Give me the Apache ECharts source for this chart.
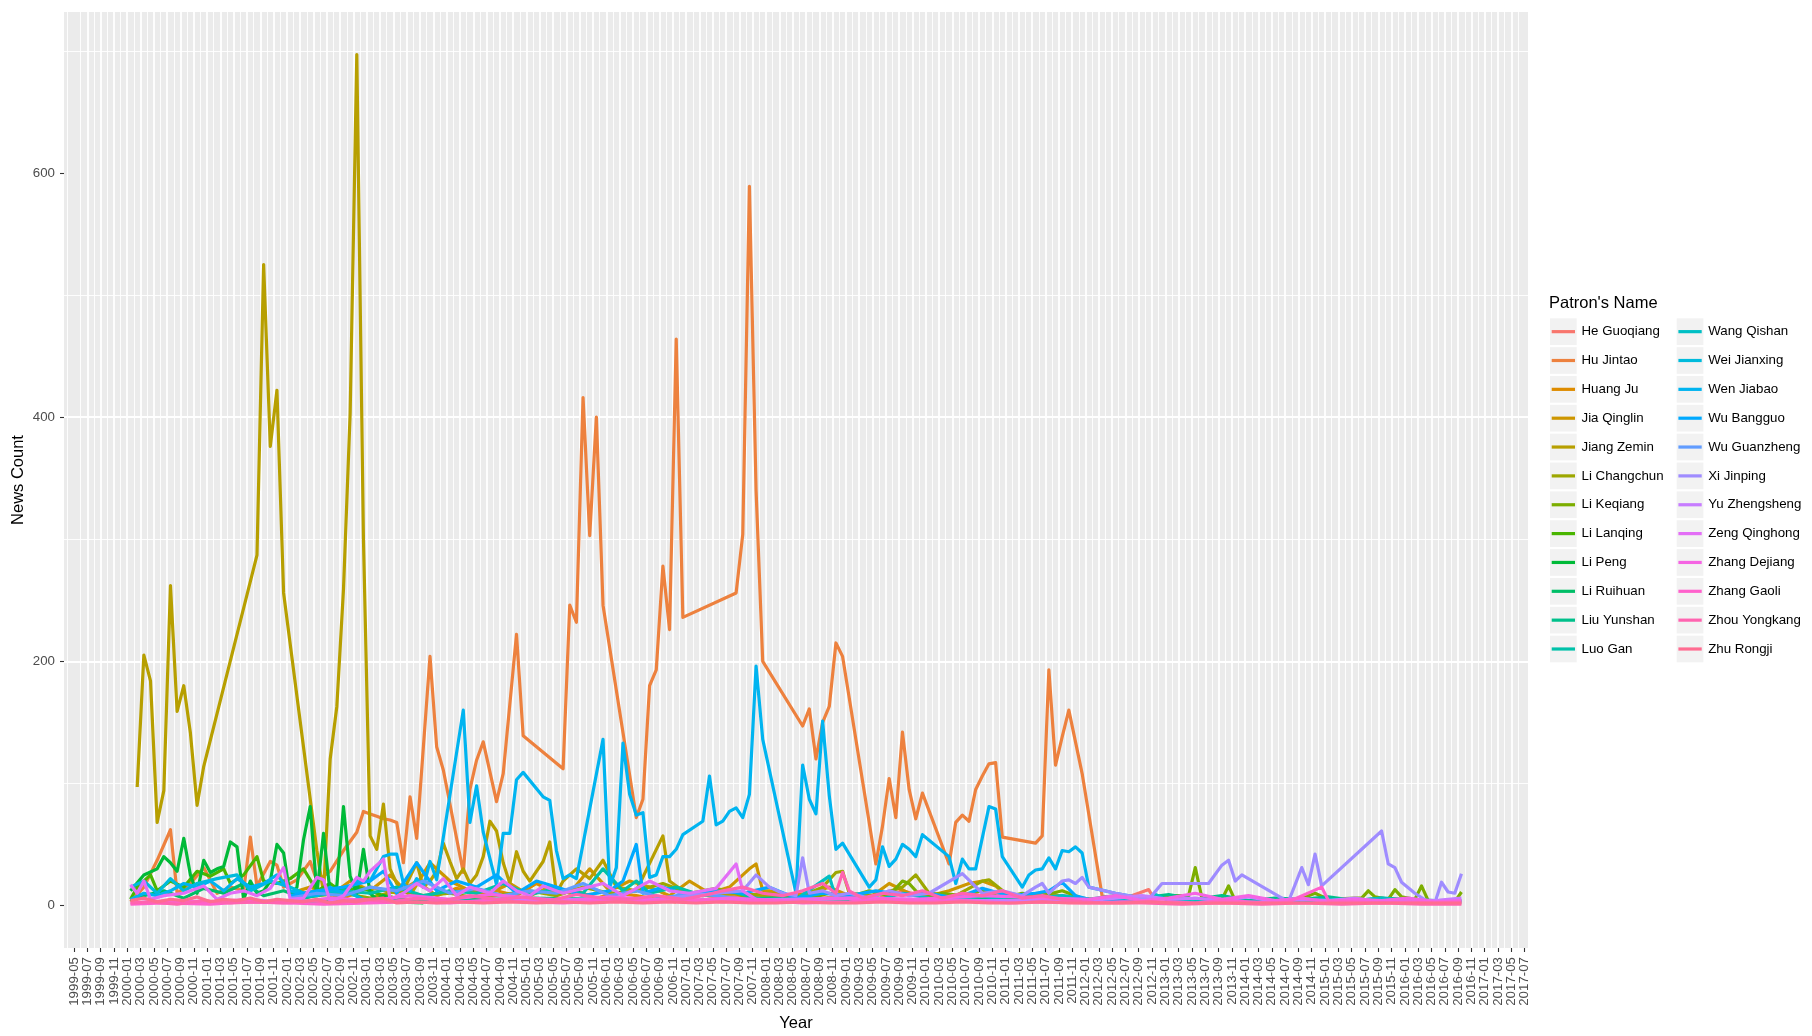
<!DOCTYPE html>
<html>
<head>
<meta charset="utf-8">
<title>News Count by Patron</title>
<script src="https://cdn.jsdelivr.net/npm/echarts@6/dist/echarts.min.js"></script>
<style>
  html, body { margin: 0; padding: 0; background: #ffffff; }
  #chart { width: 1812px; height: 1036px; }
</style>
</head>
<body>
<div id="chart"></div>
<script>
// ---- Series names (legend order) ----
const patronNames = [
  'He Guoqiang', 'Hu Jintao', 'Huang Ju', 'Jia Qinglin', 'Jiang Zemin', 'Li Changchun',
  'Li Keqiang', 'Li Lanqing', 'Li Peng', 'Li Ruihuan', 'Liu Yunshan', 'Luo Gan',
  'Wang Qishan', 'Wei Jianxing', 'Wen Jiabao', 'Wu Bangguo', 'Wu Guanzheng', 'Xi Jinping',
  'Yu Zhengsheng', 'Zeng Qinghong', 'Zhang Dejiang', 'Zhang Gaoli', 'Zhou Yongkang', 'Zhu Rongji'
];

// ---- Monthly news counts, [month, count] ----
const heGuoqiang = [['2007-01',3],['2007-05',6],['2007-09',8],['2008-01',5],['2008-05',10],['2008-09',6],['2009-01',8],['2009-05',5],['2009-09',12],['2010-01',6],['2010-05',8],['2010-09',5],['2011-01',10],['2011-05',6],['2011-09',8],['2012-01',5],['2012-05',3],['2012-10',13],['2012-11',4]];

const huJintao = [['2000-01',3],['2000-03',15],['2000-05',37],['2000-07',62],['2000-08',10],['2000-10',18],['2000-12',31],['2001-02',10],['2001-04',15],['2001-06',12],['2001-07',56],['2001-08',16],['2001-10',36],['2001-11',33],['2001-12',15],['2002-02',21],['2002-04',36],['2002-05',20],['2002-07',28],['2002-09',45],['2002-11',60],['2002-12',77],
  ['2003-01',75],['2003-02',73],['2003-03',71],['2003-04',70],['2003-05',68],['2003-06',35],['2003-07',89],['2003-08',55],['2003-10',204],['2003-11',130],['2003-12',111],['2004-03',27],['2004-04',95],['2004-05',119],['2004-06',134],['2004-08',85],['2004-09',108],['2004-11',222],['2004-12',139],
  ['2005-06',112],['2005-07',246],['2005-08',232],['2005-09',416],['2005-10',303],['2005-11',400],['2005-12',246],['2006-05',72],['2006-06',87],['2006-07',180],['2006-08',193],['2006-09',278],['2006-10',226],['2006-11',464],['2006-12',236],
  ['2007-08',256],['2007-09',304],['2007-10',589],['2007-11',340],['2007-12',200],['2008-06',147],['2008-07',161],['2008-08',120],['2008-09',150],['2008-10',163],['2008-11',215],['2008-12',204],
  ['2009-05',34],['2009-06',65],['2009-07',104],['2009-08',72],['2009-09',142],['2009-10',95],['2009-11',71],['2009-12',92],['2010-04',34],['2010-05',68],['2010-06',74],['2010-07',69],['2010-08',95],['2010-09',106],['2010-10',116],['2010-11',117],['2010-12',56],
  ['2011-05',51],['2011-06',57],['2011-07',193],['2011-08',115],['2011-09',138],['2011-10',160],['2011-12',108],['2012-03',8],['2012-06',3],['2013-03',2]];

const huangJu = [['2002-01',8],['2002-05',12],['2002-09',6],['2003-01',15],['2003-05',10],['2003-08',20],['2003-11',8],['2004-02',14],['2004-05',10],['2004-08',12],['2004-11',8],['2005-02',18],['2005-05',10],['2005-08',12],['2005-11',6],['2006-02',10],['2006-05',8],['2006-08',5],['2006-11',3]];

const jiaQinglin = [['2002-01',10],['2002-04',15],['2002-07',8],['2002-10',20],['2003-01',12],['2003-04',25],['2003-07',8],['2003-10',35],['2004-01',20],['2004-04',12],['2004-07',10],['2004-10',18],['2005-01',8],['2005-04',15],['2005-07',10],['2005-10',30],['2006-01',12],['2006-04',20],['2006-07',15],['2006-10',8],['2007-01',20],['2007-04',10],['2007-07',15],['2007-10',30],['2007-11',34],['2007-12',12],['2008-01',12],['2008-04',8],['2008-07',10],['2008-10',15],['2009-01',8],['2009-04',6],['2009-07',18],['2009-10',10],['2010-01',8],['2010-04',12],['2010-07',18],['2010-09',20],['2010-11',16],['2011-01',6],['2011-04',8],['2011-07',10],['2011-10',6],['2012-01',4]];

const jiangZemin = [['2000-02',97],['2000-03',205],['2000-04',184],['2000-05',68],['2000-06',94],['2000-07',262],['2000-08',159],['2000-09',180],['2000-10',141],['2000-11',82],['2000-12',114],
  ['2001-08',287],['2001-09',525],['2001-10',376],['2001-11',422],['2001-12',256],
  ['2002-05',45],['2002-06',10],['2002-07',120],['2002-08',163],['2002-09',259],['2002-10',403],['2002-11',697],['2002-12',300],
  ['2003-01',57],['2003-02',46],['2003-03',83],['2003-04',30],['2003-05',18],['2003-06',12],['2003-08',35],['2003-09',15],['2003-10',20],['2003-11',28],['2003-12',51],
  ['2004-01',36],['2004-02',22],['2004-03',30],['2004-04',18],['2004-05',25],['2004-06',40],['2004-07',69],['2004-08',61],['2004-09',35],['2004-10',18],['2004-11',44],['2004-12',28],
  ['2005-01',20],['2005-03',36],['2005-04',52],['2005-05',10],['2005-06',20],['2005-08',30],['2005-10',22],['2005-12',37],['2006-02',15],['2006-05',12],['2006-09',57],['2006-10',20],['2006-12',12],['2007-04',8],['2007-09',10],['2008-03',6]];

const liChangchun = [['2002-01',5],['2002-05',8],['2002-09',10],['2003-01',6],['2003-05',12],['2003-09',8],['2004-01',10],['2004-05',6],['2004-09',9],['2005-01',12],['2005-05',8],['2005-09',15],['2006-01',10],['2006-05',12],['2006-09',18],['2007-01',10],['2007-05',14],['2007-09',8],['2008-01',10],['2008-05',6],['2008-09',15],['2008-11',27],['2008-12',28],['2009-01',10],['2009-05',8],['2009-09',15],['2009-11',25],['2010-01',10],['2010-05',8],['2010-09',20],['2010-10',21],['2011-01',8],['2011-05',6],['2011-09',5],['2012-01',4]];

const liKeqiang = [['2008-01',5],['2008-04',8],['2008-07',6],['2008-10',10],['2009-01',7],['2009-04',12],['2009-07',8],['2009-09',20],['2009-10',18],['2009-12',6],['2010-03',10],['2010-06',8],['2010-09',12],['2010-12',6],['2011-03',10],['2011-06',8],['2011-09',12],['2011-12',6],['2012-03',4],['2012-07',6],['2012-10',5],
  ['2013-01',8],['2013-03',8],['2013-04',8],['2013-05',31],['2013-06',6],['2013-07',4],['2013-08',5],['2013-09',5],['2013-10',16],['2013-11',4],['2014-03',3],['2014-07',4],['2014-09',6],['2014-11',10],['2015-01',5],['2015-05',6],['2015-06',6],['2015-07',12],['2015-08',7],['2015-10',5],['2015-11',13],['2015-12',7],['2016-02',5],['2016-03',16],['2016-04',4],['2016-07',2],['2016-08',3],['2016-09',11]];

const liLanqing = [['2000-01',5],['2000-02',15],['2000-04',25],['2000-05',12],['2000-07',20],['2000-09',15],['2000-11',28],['2001-01',24],['2001-03',30],['2001-04',18],['2001-06',25],['2001-08',40],['2001-09',20],['2001-11',18],['2002-01',22],['2002-03',30],['2002-05',12],['2002-07',18],['2002-09',10],['2002-11',15],['2003-01',12],['2003-03',8],['2003-05',6],['2003-08',4]];

const liPeng = [['2000-01',12],['2000-03',25],['2000-05',30],['2000-06',40],['2000-07',35],['2000-08',28],['2000-09',55],['2000-10',25],['2000-11',10],['2000-12',37],['2001-01',27],['2001-02',30],['2001-03',32],['2001-04',52],['2001-05',48],['2001-06',5],['2001-07',20],['2001-08',10],['2001-09',12],['2001-10',20],['2001-11',50],['2001-12',43],
  ['2002-01',8],['2002-02',15],['2002-03',54],['2002-04',81],['2002-05',10],['2002-06',59],['2002-07',10],['2002-08',16],['2002-09',81],['2002-10',24],['2002-11',10],['2002-12',46],['2003-01',10],['2003-02',5],['2003-03',8],['2003-05',3],['2003-09',2]];

const liRuihuan = [['2000-01',4],['2000-03',8],['2000-06',12],['2000-09',6],['2000-12',14],['2001-03',10],['2001-06',18],['2001-09',8],['2001-12',12],['2002-03',6],['2002-06',10],['2002-09',14],['2002-12',5],['2003-03',3]];

const liuYunshan = [['2002-01',3],['2003-01',5],['2004-01',4],['2005-01',6],['2006-01',5],['2007-01',4],['2008-01',6],['2009-01',5],['2010-01',4],['2011-01',6],['2012-01',5],['2012-05',8],['2012-09',6],['2013-01',9],['2013-05',5],['2013-09',8],['2014-01',4],['2014-05',6],['2014-09',5],['2015-01',7],['2015-05',4],['2015-09',6],['2016-01',5],['2016-05',4],['2016-09',3]];

const luoGan = [['2002-01',5],['2002-05',8],['2002-09',12],['2003-01',10],['2003-05',15],['2003-09',8],['2004-01',12],['2004-05',10],['2004-09',18],['2005-01',9],['2005-05',14],['2005-09',10],['2005-12',30],['2006-03',12],['2006-05',20],['2006-07',10],['2006-11',15],['2007-03',8],['2007-07',12],['2007-11',6],['2008-01',4]];

const wangQishan = [['2008-01',3],['2008-05',5],['2008-10',24],['2008-11',6],['2009-01',6],['2009-05',4],['2009-09',10],['2010-01',6],['2010-05',5],['2010-09',8],['2011-01',4],['2011-05',6],['2011-09',8],['2012-01',5],['2012-05',4],['2012-10',6],['2012-11',9],['2013-01',4],['2013-05',3],['2013-09',5],['2014-01',3],['2014-05',4],['2014-09',3],['2015-01',5],['2015-05',4],['2015-09',6],['2016-01',4],['2016-05',3],['2016-09',4]];

const weiJianxing = [['2000-01',15],['2000-03',20],['2000-05',10],['2000-07',22],['2000-09',12],['2000-11',18],['2001-02',22],['2001-05',25],['2001-07',12],['2001-10',20],['2002-01',15],['2002-04',8],['2002-07',12],['2002-10',10],['2002-12',5]];

const wenJiabao = [['2000-01',5],['2000-03',10],['2000-05',8],['2000-07',12],['2000-09',18],['2000-11',15],['2001-01',20],['2001-03',12],['2001-05',22],['2001-07',15],['2001-09',18],['2001-11',25],['2002-01',12],['2002-03',10],['2002-05',8],['2002-07',15],['2002-09',10],['2002-11',20],
  ['2003-01',20],['2003-02',30],['2003-03',40],['2003-04',42],['2003-05',42],['2003-06',18],['2003-07',12],['2003-08',22],['2003-09',15],['2003-10',36],['2003-11',21],['2004-03',160],['2004-04',68],['2004-05',98],['2004-06',60],['2004-08',17],['2004-09',59],['2004-10',59],['2004-11',103],['2004-12',109],
  ['2005-03',89],['2005-04',86],['2005-05',45],['2005-06',22],['2005-07',25],['2005-08',22],['2005-12',136],['2006-01',15],['2006-02',31],['2006-03',133],['2006-04',91],['2006-05',74],['2006-06',76],['2006-07',23],['2006-08',25],['2006-09',40],['2006-10',40],['2006-11',46],['2006-12',58],
  ['2007-03',69],['2007-04',106],['2007-05',66],['2007-06',69],['2007-07',77],['2007-08',80],['2007-09',72],['2007-10',91],['2007-11',196],['2007-12',136],['2008-05',10],['2008-06',115],['2008-07',87],['2008-08',75],['2008-09',151],['2008-10',90],['2008-11',46],['2008-12',51],
  ['2009-04',15],['2009-05',21],['2009-06',48],['2009-07',32],['2009-08',38],['2009-09',50],['2009-10',46],['2009-11',40],['2009-12',58],['2010-04',40],['2010-05',18],['2010-06',38],['2010-07',30],['2010-08',30],['2010-10',81],['2010-11',79],['2010-12',40],
  ['2011-03',15],['2011-04',25],['2011-05',29],['2011-06',30],['2011-07',39],['2011-08',30],['2011-09',45],['2011-10',44],['2011-11',48],['2011-12',43],['2012-01',15],['2012-05',10],['2012-10',5]];

const wuBangguo = [['2002-01',8],['2002-05',12],['2002-09',15],['2003-01',20],['2003-03',28],['2003-05',10],['2003-08',35],['2003-11',12],['2004-02',20],['2004-05',15],['2004-08',25],['2004-11',10],['2005-02',20],['2005-05',15],['2005-09',8],['2006-01',12],['2006-03',20],['2006-05',50],['2006-06',10],['2006-09',15],['2007-01',8],['2007-05',12],['2007-09',10],['2008-01',15],['2008-05',6],['2008-09',10],['2009-01',8],['2009-05',12],['2009-09',9],['2010-01',10],['2010-05',6],['2010-09',14],['2011-01',8],['2011-05',10],['2011-07',12],['2011-09',19],['2011-11',8],['2012-01',5],['2012-07',3]];

const wuGuanzheng = [['2002-01',6],['2002-05',10],['2002-09',8],['2003-01',15],['2003-05',12],['2003-09',20],['2004-01',10],['2004-05',14],['2004-09',8],['2005-01',12],['2005-05',10],['2005-09',18],['2006-01',8],['2006-05',12],['2006-09',6],['2007-01',10],['2007-05',8],['2007-09',5],['2007-12',3]];

const xiJinping = [['2006-09',5],['2007-01',8],['2007-05',10],['2007-09',12],['2007-11',25],['2008-01',15],['2008-03',10],['2008-05',8],['2008-06',39],['2008-07',10],['2008-09',12],['2008-11',8],['2009-01',10],['2009-04',6],['2009-07',12],['2009-10',8],['2010-01',10],['2010-06',26],['2010-09',10],['2010-12',12],
  ['2011-03',8],['2011-05',15],['2011-06',18],['2011-07',10],['2011-08',15],['2011-09',20],['2011-10',21],['2011-11',18],['2011-12',23],['2012-01',15],['2012-05',10],['2012-10',5],['2012-12',18],['2013-07',18],['2013-09',33],['2013-10',37],['2013-11',20],['2013-12',25],
  ['2014-07',3],['2014-09',31],['2014-10',17],['2014-11',42],['2014-12',16],['2015-09',61],['2015-10',34],['2015-11',31],['2015-12',19],['2016-02',10],['2016-04',3],['2016-05',2],['2016-06',19],['2016-07',11],['2016-08',10],['2016-09',26]];

const yuZhengsheng = [['2004-01',3],['2005-09',5],['2007-05',4],['2009-01',6],['2010-09',4],['2012-01',4],['2012-05',6],['2012-09',8],['2013-01',5],['2013-05',6],['2013-09',4],['2014-01',7],['2014-05',3],['2014-09',5],['2015-01',4],['2015-05',6],['2015-09',3],['2016-01',5],['2016-05',4],['2016-09',6]];

const zengQinghong = [['2000-01',17],['2000-02',10],['2000-03',20],['2000-04',5],['2000-06',8],['2000-09',10],['2000-12',16],['2001-02',5],['2001-04',10],['2001-06',12],['2001-08',8],['2001-10',14],['2001-12',31],['2002-01',5],['2002-03',6],['2002-05',23],['2002-06',21],['2002-07',3],['2002-09',8],['2002-11',23],['2002-12',20],
  ['2003-01',28],['2003-03',38],['2003-04',5],['2003-06',10],['2003-08',18],['2003-10',12],['2003-12',22],['2004-02',8],['2004-04',15],['2004-07',10],['2004-09',20],['2004-11',12],['2005-01',8],['2005-03',16],['2005-06',10],['2005-09',14],['2005-12',18],['2006-03',8],['2006-07',20],['2006-10',12],['2007-01',10],['2007-05',14],['2007-08',34],['2007-09',12],['2007-11',5],['2008-01',3]];

const zhangDejiang = [['2000-01',2],['2000-07',4],['2001-01',3],['2001-07',5],['2002-01',2],['2002-07',6],['2003-01',4],['2003-07',8],['2004-01',5],['2004-07',9],['2005-01',6],['2005-07',4],['2006-01',7],['2006-07',5],['2007-01',4],['2007-07',6],
  ['2008-03',4],['2009-01',6],['2009-11',5],['2010-09',8],['2011-07',6],['2012-01',5],['2012-05',8],['2012-09',4],['2013-01',6],['2013-05',10],['2013-09',5],['2014-01',8],['2014-05',4],['2014-09',6],['2015-01',3],['2015-05',5],['2015-09',4],['2016-01',6],['2016-05',3],['2016-09',4]];

const zhangGaoli = [['2000-01',1],['2000-06',2],['2001-01',1],['2001-06',3],['2002-01',2],['2002-06',1],['2003-01',2],['2003-06',3],['2004-01',2],['2004-06',4],['2005-01',3],['2005-06',2],['2006-01',4],['2006-06',3],['2007-01',5],['2007-06',3],['2008-01',4],['2008-06',2],['2009-01',3],['2009-06',5],['2010-01',3],['2010-06',4],['2011-01',2],['2011-06',3],['2012-01',2],['2012-06',3],
  ['2013-01',3],['2013-05',2],['2013-09',4],['2014-01',3],['2014-05',2],['2014-07',3],['2014-12',15],['2015-01',4],['2015-05',3],['2015-09',2],['2016-01',3],['2016-05',2],['2016-09',3]];

const zhouYongkang = [['2000-01',2],['2000-04',3],['2000-08',1],['2000-12',4],['2001-04',2],['2001-08',3],['2001-12',2],['2002-04',4],['2002-08',2],['2002-12',5],['2003-04',3],['2003-08',6],['2003-12',4],['2004-04',8],['2004-08',5],['2004-12',7],['2005-04',4],['2005-08',9],['2005-12',6],['2006-04',5],['2006-08',8],
  ['2006-12',5],['2007-03',8],['2007-06',12],['2007-09',15],['2007-12',10],['2008-03',8],['2008-06',12],['2008-09',18],['2008-11',10],['2008-12',27],['2009-01',12],['2009-03',6],['2009-06',10],['2009-09',8],['2009-12',12],['2010-03',6],['2010-06',10],['2010-09',8],['2010-12',12],['2011-03',6],['2011-06',8],['2011-09',5],['2011-12',3],['2012-03',2],
  ['2012-09',2],['2013-03',1],['2013-09',2],['2014-03',1],['2014-09',2],['2015-03',1],['2015-09',2],['2016-03',1],['2016-09',1]];

const zhuRongji = [['2000-01',4],['2000-03',6],['2000-05',3],['2000-07',5],['2000-09',4],['2000-11',7],['2001-01',3],['2001-03',5],['2001-05',4],['2001-07',6],['2001-09',3],['2001-11',5],['2002-01',4],['2002-03',3],['2002-05',5],['2002-07',2],['2002-09',4],['2002-11',3],['2003-01',5],['2003-03',6],['2003-05',2],['2003-08',3],['2003-11',2],
  ['2004-02',3],['2004-06',2],['2004-10',3],['2005-02',2],['2005-06',3],['2005-10',2],['2006-02',3],['2006-06',2],['2006-10',3],['2007-02',2],['2007-06',3],['2007-10',2],['2008-02',2],['2008-06',3],['2008-10',2],['2009-02',2],['2009-06',3],['2009-10',2],['2010-02',2],['2010-06',3],['2010-10',2],
  ['2011-02',2],['2011-06',3],['2011-10',2],['2012-02',2],['2012-06',2],['2012-10',3],['2013-02',2],['2013-06',2],['2013-10',2],['2014-02',2],['2014-06',2],['2014-10',2],['2015-02',2],['2015-06',2],['2015-10',2],['2016-02',2],['2016-06',2],['2016-09',2]];

const patronSeries = [heGuoqiang, huJintao, huangJu, jiaQinglin, jiangZemin, liChangchun,
  liKeqiang, liLanqing, liPeng, liRuihuan, liuYunshan, luoGan,
  wangQishan, weiJianxing, wenJiabao, wuBangguo, wuGuanzheng, xiJinping,
  yuZhengsheng, zengQinghong, zhangDejiang, zhangGaoli, zhouYongkang, zhuRongji];

// ---- Axis ticks ----
const xTickFirst = '1999-05';
const xTickLast = '2017-07';
const yTickValues = [0, 200, 400, 600];

// Months counted from 1999-01; each monthly point sits mid-month.
function monthIndex(ym) {
  const parts = ym.split('-').map(Number);
  return (parts[0] - 1999) * 12 + (parts[1] - 1);
}
function monthLabel(i) {
  const y = 1999 + Math.floor(i / 12);
  const m = (i % 12) + 1;
  return y + '-' + String(m).padStart(2, '0');
}
const xTickValues = [];
for (let i = monthIndex(xTickFirst); i <= monthIndex(xTickLast); i += 2) xTickValues.push(i);

// Data span padded by 5% on each side, ggplot style.
const xMin = monthIndex('2000-01') + 0.5 - 10;
const xMax = monthIndex('2016-09') + 0.5 + 10;
const yMin = -697 * 0.05;
const yMax = 697 * 1.05;

// Evenly spaced HCL hues (c = 100, l = 65), starting at 15 degrees.
function hclHex(h, c, l) {
  const WY = 100, Wu = 0.1978398, Wv = 0.4683363;
  const hr = h * Math.PI / 180;
  const U = c * Math.cos(hr), V = c * Math.sin(hr);
  const Y = WY * (l > 7.999592 ? Math.pow((l + 16) / 116, 3) : l / 903.3);
  const u = U / (13 * l) + Wu, v = V / (13 * l) + Wv;
  const X = 9 * Y * u / (4 * v);
  const Z = -X / 3 - 5 * Y + 3 * Y / v;
  const g = t => (t > 0.00304 ? 1.055 * Math.pow(t, 1 / 2.4) - 0.055 : 12.92 * t);
  const rgb = [
    g((3.240479 * X - 1.537150 * Y - 0.498535 * Z) / WY),
    g((-0.969256 * X + 1.875992 * Y + 0.041556 * Z) / WY),
    g((0.055648 * X - 0.204043 * Y + 1.057311 * Z) / WY)
  ];
  return '#' + rgb.map(x => {
    const k = Math.round(Math.min(1, Math.max(0, x)) * 255);
    return k.toString(16).padStart(2, '0');
  }).join('');
}
const palette = patronNames.map((_, i) => hclHex(15 + i * 360 / patronNames.length, 100, 65));

const FONT = "'Liberation Sans', Arial, Helvetica, sans-serif";
const LINE_WIDTH = 3.2;

// ---- Plot panel geometry ----
const panel = { left: 64, top: 12, width: 1464, height: 936 };

const series = patronNames.map((name, i) => ({
  name: name,
  type: 'line',
  data: patronSeries[i].map(p => [monthIndex(p[0]) + 0.5, p[1]]),
  symbol: 'none',
  showSymbol: false,
  animation: false,
  silent: true,
  lineStyle: { color: palette[i], width: LINE_WIDTH, join: 'round', cap: 'butt' },
  itemStyle: { color: palette[i] },
  emphasis: { disabled: true }
}));

// ---- Legend drawn as graphic elements ----
const legendGraphics = [{
  type: 'text', left: 1549, top: 295,
  style: { text: "Patron's Name", font: '16.5px ' + FONT, fill: '#000000' }
}];
const keySize = 26.7, rowPitch = 28.85, keyTop = 318.3;
patronNames.forEach((name, i) => {
  const col = i < 12 ? 0 : 1;
  const row = i % 12;
  const kx = col === 0 ? 1550 : 1676.7;
  const ky = keyTop + row * rowPitch;
  legendGraphics.push({
    type: 'rect', shape: { x: kx, y: ky, width: keySize, height: keySize },
    style: { fill: '#F2F2F2' }
  });
  legendGraphics.push({
    type: 'line', shape: { x1: kx + 1.7, y1: ky + keySize / 2, x2: kx + keySize - 1.7, y2: ky + keySize / 2 },
    style: { stroke: palette[i], lineWidth: LINE_WIDTH }
  });
  legendGraphics.push({
    type: 'text', x: kx + 31.5, y: ky + keySize / 2,
    style: { text: name, font: '13.3px ' + FONT, fill: '#000000', textVerticalAlign: 'middle', verticalAlign: 'middle' }
  });
});

const chart = echarts.init(document.getElementById('chart'), null, { renderer: 'canvas' });
chart.setOption({
  animation: false,
  backgroundColor: '#ffffff',
  grid: {
    left: panel.left, top: panel.top, width: panel.width, height: panel.height,
    show: true, backgroundColor: '#EBEBEB', borderWidth: 0, containLabel: false
  },
  xAxis: {
    type: 'value', position: 'bottom', min: xMin, max: xMax, minInterval: 2, maxInterval: 2,
    axisLine: { show: false, onZero: false },
    axisTick: { show: true, length: 4, lineStyle: { color: '#333333', width: 1.1 }, customValues: xTickValues },
    axisLabel: {
      rotate: 90, margin: 9, color: '#4D4D4D', fontSize: 13.3, fontFamily: FONT,
      customValues: xTickValues,
      formatter: v => monthLabel(Math.round(v))
    },
    splitLine: { show: true, showMinLine: false, showMaxLine: false, lineStyle: { color: '#ffffff', width: 1.8 } },
    minorTick: { show: false, splitNumber: 2 },
    minorSplitLine: { show: true, lineStyle: { color: '#ffffff', width: 0.9 } }
  },
  yAxis: {
    type: 'value', position: 'left', min: yMin, max: yMax, minInterval: 200, maxInterval: 200,
    axisLine: { show: false, onZero: false },
    axisTick: { show: true, length: 4, lineStyle: { color: '#333333', width: 1.1 }, customValues: yTickValues },
    axisLabel: { margin: 9, color: '#4D4D4D', fontSize: 13.3, fontFamily: FONT, customValues: yTickValues },
    splitLine: { show: true, showMinLine: false, showMaxLine: false, lineStyle: { color: '#ffffff', width: 1.8 } },
    minorTick: { show: false, splitNumber: 2 },
    minorSplitLine: { show: true, lineStyle: { color: '#ffffff', width: 0.9 } }
  },
  series: series,
  graphic: [
    {
      type: 'text', x: 18, y: panel.top + panel.height / 2, rotation: Math.PI / 2,
      style: { text: 'News Count', font: '16.5px ' + FONT, fill: '#000000', textAlign: 'center', textVerticalAlign: 'middle', align: 'center', verticalAlign: 'middle' }
    },
    {
      type: 'text', x: panel.left + panel.width / 2, y: 1023,
      style: { text: 'Year', font: '16.5px ' + FONT, fill: '#000000', textAlign: 'center', textVerticalAlign: 'middle', align: 'center', verticalAlign: 'middle' }
    }
  ].concat(legendGraphics)
});
</script>
</body>
</html>
